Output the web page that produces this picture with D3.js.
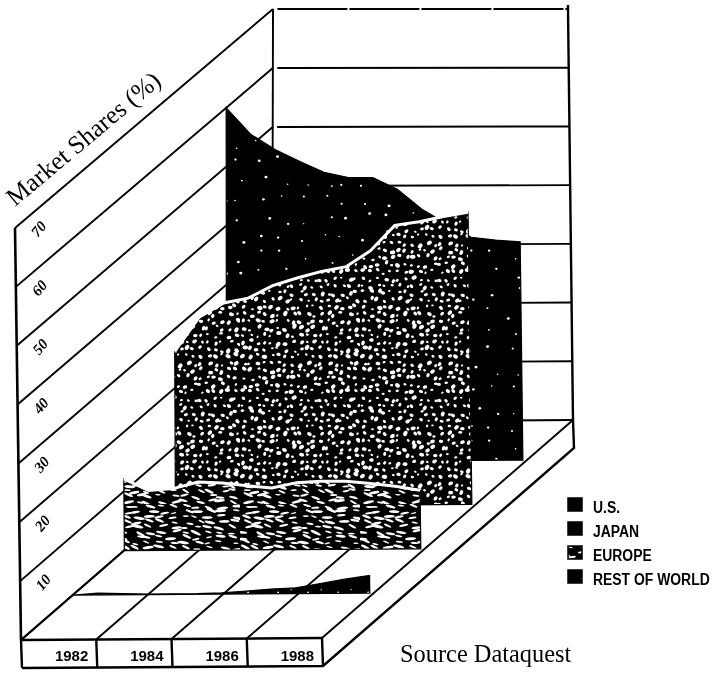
<!DOCTYPE html>
<html>
<head>
<meta charset="utf-8">
<script src="https://cdn.jsdelivr.net/npm/d3@7"></script>
<style>
  html, body { margin: 0; padding: 0; background: #fff; }
  svg { display: block; filter: blur(0.35px); }
</style>
</head>
<body>
<div id="chart"></div>
<script>
// half-year steps
const years = [1982, 1982.5, 1983, 1983.5, 1984, 1984.5, 1985, 1985.5, 1986, 1986.5, 1987, 1987.5, 1988];
const usShare = [60.1, 55.6, 53, 51, 49.1, 48.2, 48.2, 46.2, 42.8, 40.3, 38, 37.5, 37.2];
const japanShare = [26.3, 32.1, 34.5, 35.3, 37.4, 38.7, 39.8, 40.6, 43.3, 47.6, 48.2, 49.1, 49.8];
const europeShare = [12.2, 10.2, 10.5, 11.6, 11.4, 10.9, 10.5, 11.4, 11.6, 11.6, 11.2, 10.7, 10];
const restShare = [0, 0.3, 0.2, 0.1, 0.1, 0.1, 0.2, 0.5, 0.8, 1, 1.7, 2.4, 3];
const seriesNames = ["U.S.", "JAPAN", "EUROPE", "REST OF WORLD"];
const yearLabels = ["1982", "1984", "1986", "1988"];
const valueTicks = [10, 20, 30, 40, 50, 60, 70];

const width = 713;
const height = 673;

const svg = d3.select("#chart").append("svg")
    .attr("width", width)
    .attr("height", height);

// box corners in pixels
const floorFL = [21, 640], floorFR = [322, 638], floorBL = [272, 422], floorBR = [573, 420];
const topFL = [15, 228], topFR = [316, 228], topBL = [273, 9], topBR = [568, 9];

const uScale = d3.scaleLinear().domain([1982, 1988]).range([0.002, 0.987]);
const dScale = d3.scalePoint().domain(["REST OF WORLD", "EUROPE", "JAPAN", "U.S."]).range([0.206, 0.816]);
const vScale = d3.scaleLinear().domain([0, 70]).range([0, 1]);

function mix(a, b, t) {
    return [a[0] + (b[0] - a[0]) * t, a[1] + (b[1] - a[1]) * t];
}

// u along the front, d into the page, v up the wall
function project(u, d, v) {
    const low = mix(mix(floorFL, floorFR, u), mix(floorBL, floorBR, u), d);
    const high = mix(mix(topFL, topFR, u), mix(topBL, topBR, u), d);
    return mix(low, high, v);
}

function hash(i) {
    const s = Math.sin(i * 12.9898) * 43758.5453;
    return s - Math.floor(s);
}

// white flecks on a jittered grid, fixed from one run to the next
const defs = svg.append("defs");
function addTexture(id, tileW, tileH, cols, rows, rx, ry, angle, spread) {
    const pattern = defs.append("pattern")
        .attr("id", id)
        .attr("patternUnits", "userSpaceOnUse")
        .attr("width", tileW)
        .attr("height", tileH);
    pattern.append("rect").attr("width", tileW).attr("height", tileH).attr("fill", "#000");
    const cellW = tileW / cols, cellH = tileH / rows;
    d3.range(cols * rows).forEach(i => {
        const col = i % cols, row = Math.floor(i / cols);
        const x = (col + 0.15 + hash(i + 1) * 0.7) * cellW;
        const y = (row + 0.15 + hash(i + 500) * 0.7) * cellH;
        const size = 0.65 + hash(i + 900) * 0.75;
        const tilt = angle + (hash(i + 1300) - 0.5) * spread;
        pattern.append("ellipse")
            .attr("rx", rx * size).attr("ry", ry * size)
            .attr("transform", `translate(${x},${y}) rotate(${tilt})`)
            .attr("fill", "#fff");
    });
}
addTexture("tex-us", 210, 190, 10, 10, 1.1, 1.0, 0, 0);
addTexture("tex-japan", 120, 120, 17, 17, 2.0, 1.45, -10, 120);
addTexture("tex-europe", 120, 72, 10, 14, 4.2, 1.1, 8, 45);
addTexture("tex-rest", 30, 30, 2, 2, 0.8, 0.8, 0, 0);

const line = d3.line();

// walls and floor
const frame = svg.append("g")
    .attr("fill", "none")
    .attr("stroke", "#000")
    .attr("stroke-width", 1.9);

frame.append("path").attr("d", line([project(0, 0, 1), project(0, 1, 1)]));
frame.append("path").attr("d", line([project(0, 0, 1), project(0, 0, 0)])).attr("stroke-width", 2.6);
frame.append("path").attr("d", line([project(0, 1, 1), project(0, 1, 0)]));
frame.append("path").attr("d", line([project(1, 1, 1.01), project(1, 1, 0)])).attr("stroke-width", 2.4);
frame.append("path")
    .attr("d", line([project(0.015, 1, 1), project(1, 1, 1)]))
    .attr("stroke-dasharray", "70 2");

valueTicks.forEach(t => {
    frame.append("path").attr("d", line([project(0, 0, vScale(t - 10)), project(0, 1, vScale(t - 10))]));
    if (t < 70) {
        frame.append("path").attr("d", line([project(0.015, 1, vScale(t)), project(1, 1, vScale(t))]));
    }
});
frame.append("path").attr("d", line([project(0, 1, 0), project(1, 1, 0)]));

// floor lines run from each year cell to the back wall
const cells = d3.range(yearLabels.length + 1);
const cellScale = d3.scaleLinear().domain([0, yearLabels.length]).range([0, 1]);
cells.forEach(i => {
    frame.append("path").attr("d", line([project(cellScale(i), 0, 0), project(cellScale(i), 1, 0)]));
});

// plinth under the floor
const plinthDrop = 28;
const plinth = svg.append("g")
    .attr("fill", "none")
    .attr("stroke", "#000")
    .attr("stroke-width", 2.4);
cells.forEach(i => {
    const p = project(cellScale(i), 0, 0);
    plinth.append("path").attr("d", line([p, [p[0] + 1, p[1] + plinthDrop]]));
});
plinth.append("path").attr("d", line([project(0, 0, 0), project(1, 0, 0)]));
const plinthL = project(0, 0, 0), plinthR = project(1, 0, 0), backR = project(1, 1, 0);
plinth.append("path").attr("d", line([
    [plinthL[0] + 1, plinthL[1] + plinthDrop],
    [plinthR[0] + 1, plinthR[1] + plinthDrop],
    [backR[0] + 1, backR[1] + plinthDrop],
    backR
]));

// year labels in the plinth cells
svg.append("g").selectAll("text")
    .data(yearLabels)
    .enter()
    .append("text")
    .attr("x", (d, i) => project(cellScale(i + 1), 0, 0)[0] - 8)
    .attr("y", 661)
    .attr("text-anchor", "end")
    .style("font-family", "'Liberation Sans', sans-serif")
    .style("font-weight", "bold")
    .style("font-size", "15px")
    .text(d => d);

// one ribbon per region, back to front
const ribbons = [
    { name: "U.S.", values: usShare, fill: "url(#tex-us)", edge: null },
    { name: "JAPAN", values: japanShare, fill: "url(#tex-japan)", edge: "#fff" },
    { name: "EUROPE", values: europeShare, fill: "url(#tex-europe)", edge: "#fff" },
    { name: "REST OF WORLD", values: restShare, fill: "url(#tex-rest)", edge: null }
];

ribbons.forEach(r => {
    const d = dScale(r.name);
    const topEdge = years.map((y, i) => project(uScale(y), d, vScale(r.values[i])));
    const baseRight = project(uScale(1988), d, 0);
    const baseLeft = project(uScale(1982), d, 0);
    svg.append("path")
        .attr("d", line([baseLeft, ...topEdge, baseRight]) + "Z")
        .attr("fill", r.fill)
        .attr("stroke", "#000")
        .attr("stroke-width", 1.2);
    if (r.edge) {
        svg.append("path")
            .attr("d", line(topEdge))
            .attr("fill", "none")
            .attr("stroke", r.edge)
            .attr("stroke-width", 3);
    }
});

// value labels sit on the left wall, just under their own line
svg.append("g").selectAll("text")
    .data(valueTicks)
    .enter()
    .append("text")
    .attr("transform", d => {
        const p = project(0, 0.09, vScale(d - 3.5));
        return `translate(${p[0]},${p[1]}) rotate(-50)`;
    })
    .attr("text-anchor", "middle")
    .attr("dy", "0.35em")
    .style("font-family", "'Liberation Serif', serif")
    .style("font-weight", "bold")
    .style("font-style", "italic")
    .style("font-size", "15px")
    .text(d => d);

svg.append("text")
    .attr("transform", "translate(15,207) rotate(-40)")
    .style("font-family", "'Liberation Serif', serif")
    .style("font-size", "25.5px")
    .text("Market Shares (%)");

svg.append("text")
    .attr("x", 400)
    .attr("y", 662)
    .style("font-family", "'Liberation Serif', serif")
    .style("font-size", "24.4px")
    .text("Source Dataquest");

// legend
const legendFill = ["#000", "#000", "url(#tex-europe)", "url(#tex-rest)"];
const legendY = d3.scalePoint().domain(seriesNames).range([505, 577]);
const legend = svg.append("g");
legend.selectAll("rect")
    .data(seriesNames)
    .enter()
    .append("rect")
    .attr("x", 568)
    .attr("y", d => legendY(d) - 7)
    .attr("width", 14)
    .attr("height", 13)
    .attr("fill", (d, i) => legendFill[i])
    .attr("stroke", "#000")
    .attr("stroke-width", 1.5);
legend.selectAll("text")
    .data(seriesNames)
    .enter()
    .append("text")
    .attr("transform", d => `translate(593,${legendY(d) + 7.5}) scale(0.87,1)`)
    .style("font-family", "'Liberation Sans', sans-serif")
    .style("font-weight", "bold")
    .style("font-size", "16px")
    .text(d => d);
</script>
</body>
</html>
